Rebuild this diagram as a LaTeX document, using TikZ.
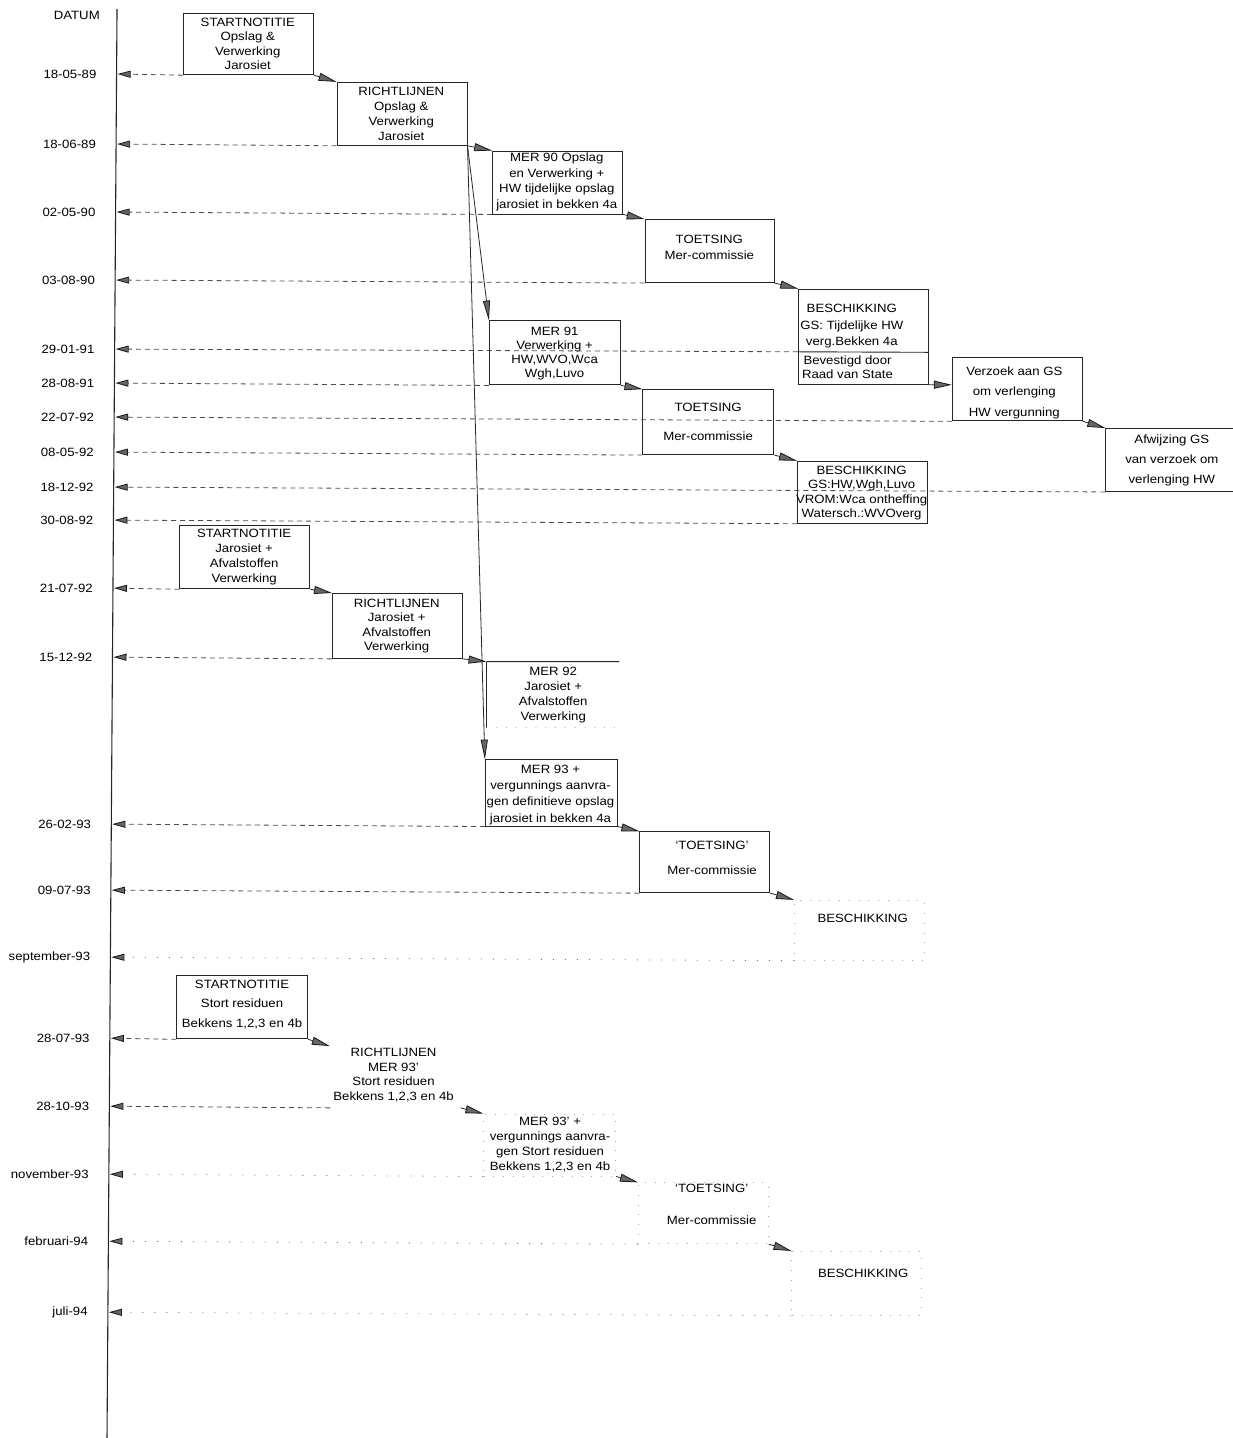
\documentclass[tikz,border=0pt]{standalone}
\usepackage{fontspec}
\setmainfont{Liberation Sans}[FakeStretch=1.1]
\usetikzlibrary{arrows.meta}
\begin{document}
\begin{tikzpicture}[x=1pt,y=-1pt,
  box/.style={draw=black!85, line width=0.9pt, rectangle, inner sep=0pt, anchor=north west},
  ghost/.style={draw=black!35, line width=0.8pt, dash pattern=on 0.8pt off 9pt, rectangle, inner sep=0pt, anchor=north west},
  boxln/.style={draw=black!85, line width=0.9pt},
  ghostln/.style={draw=black!35, line width=0.8pt, dash pattern=on 0.8pt off 9pt},
  txt/.style={align=center, inner sep=0pt, text=black, font={\fontsize{12}{#1}\selectfont}},
  txt/.default=14.5,
  lbl/.style={anchor=east, inner sep=0pt, text=black, font={\fontsize{12}{14}\selectfont}},
  dateln/.style={draw=black!70, line width=0.8pt, dash pattern=on 5pt off 4pt,
    -{Triangle[length=13pt,width=7pt,color=black!90,fill=black!60]}},
  dotln/.style={draw=black!55, line width=0.8pt, dash pattern=on 1pt off 11pt,
    -{Triangle[length=13pt,width=7pt,color=black!90,fill=black!60]}},
  stepln/.style={draw=black!85, line width=0.8pt,
    -{Triangle[length=18pt,width=8pt,color=black!90,fill=black!60]}},
  longln/.style={draw=black!85, line width=0.8pt,
    -{Triangle[length=20pt,width=7pt,color=black!90,fill=black!60]}}
]
\useasboundingbox (0,0) rectangle (1232,1438);
\begin{scope}[cm={1,-0.004,0.007,1,(0.07pt,0.47pt)}]
% axis
\coordinate (ax0) at (117,9);
\coordinate (ax1) at (117,1450);
\draw[line width=1.1pt, black!85] (ax0) -- (ax1);

% date coordinates on the axis
\coordinate (d1) at (118,74);
\coordinate (d2) at (118,144);
\coordinate (d3) at (118,212);
\coordinate (d4) at (118,280);
\coordinate (d5) at (118,349);
\coordinate (d6) at (118,383);
\coordinate (d7) at (118,417);
\coordinate (d8) at (118,452);
\coordinate (d9) at (118,487);
\coordinate (d10) at (118,520);
\coordinate (d11) at (118,588);
\coordinate (d12) at (118,657);
\coordinate (d13) at (118,824);
\coordinate (d14) at (118,890);
\coordinate (d15) at (118,957);
\coordinate (d16) at (118,1038);
\coordinate (d17) at (118,1106);
\coordinate (d18) at (118,1174);
\coordinate (d19) at (118,1241);
\coordinate (d20) at (118,1312);

% date labels
\node[lbl] (L0) at (100,15) {DATUM};
\node[lbl] (L1) at (97,74) {18-05-89};
\node[lbl] (L2) at (97,144) {18-06-89};
\node[lbl] (L3) at (97,212) {02-05-90};
\node[lbl] (L4) at (97,280) {03-08-90};
\node[lbl] (L5) at (97,349) {29-01-91};
\node[lbl] (L6) at (97,383) {28-08-91};
\node[lbl] (L7) at (97,417) {22-07-92};
\node[lbl] (L8) at (97,452) {08-05-92};
\node[lbl] (L9) at (97,487) {18-12-92};
\node[lbl] (L10) at (97,520) {30-08-92};
\node[lbl] (L11) at (97,588) {21-07-92};
\node[lbl] (L12) at (97,657) {15-12-92};
\node[lbl] (L13) at (97,824) {26-02-93};
\node[lbl] (L14) at (97,890) {09-07-93};
\node[lbl] (L15) at (97,957) {september-93};
\node[lbl] (L16) at (97,1038) {28-07-93};
\node[lbl] (L17) at (97,1106) {28-10-93};
\node[lbl] (L18) at (97,1174) {november-93};
\node[lbl] (L19) at (97,1241) {februari-94};
\node[lbl] (L20) at (97,1312) {juli-94};

% boxes
\node[box, minimum width=130pt, minimum height=61pt] (A) at (183,13) {};
\node[box, minimum width=130pt, minimum height=63pt] (B) at (337,81) {};
\node[box, minimum width=130pt, minimum height=63pt] (C) at (493,149) {};
\node[box, minimum width=129pt, minimum height=63pt] (D) at (646,217) {};
\node[box, minimum width=130pt, minimum height=95pt] (E) at (800,286) {};
\coordinate (Edl) at (800,349);
\coordinate (Edr) at (930,349);
\draw[boxln] (Edl) -- (Edr);
\node[box, minimum width=130pt, minimum height=63pt] (F) at (954,354) {};
\node[box, minimum width=132pt, minimum height=63pt] (G) at (1108,424) {};
\node[box, minimum width=131pt, minimum height=64pt] (H) at (491,319) {};
\node[box, minimum width=131pt, minimum height=65pt] (I) at (645,387) {};
\node[box, minimum width=130pt, minimum height=62pt] (J) at (800,458) {};
\node[box, minimum width=130pt, minimum height=63pt] (K) at (183,525) {};
\node[box, minimum width=130pt, minimum height=65pt] (L) at (336,592) {};
\node[box, draw=none, minimum width=132pt, minimum height=65pt] (M) at (491,660) {};
\draw[boxln] (M.north west) -- (M.north east);
\draw[boxln] (M.north west) -- (M.south west);
\draw[ghostln] (M.south west) -- (M.south east);
\node[box, minimum width=132pt, minimum height=66pt] (N) at (490,758) {};
\node[box, minimum width=130pt, minimum height=61pt] (O) at (645,829) {};
\node[ghost, minimum width=130pt, minimum height=60pt] (O2) at (800,897) {};
\node[box, minimum width=131pt, minimum height=63pt] (P) at (183,975) {};
\node[ghost, draw=none, minimum width=130pt, minimum height=61pt] (Q) at (337,1045) {};
\node[ghost, minimum width=132pt, minimum height=62pt] (R) at (491,1112) {};
\node[ghost, minimum width=130pt, minimum height=61pt] (S) at (646,1180) {};
\node[ghost, minimum width=130pt, minimum height=64pt] (T) at (800,1248) {};

% texts
\node[txt=14.5] (At) at (248,43.5) {STARTNOTITIE\\Opslag \&\\Verwerking\\Jarosiet};
\node[txt=15] (Bt) at (402,113) {RICHTLIJNEN\\Opslag \&\\Verwerking\\Jarosiet};
\node[txt=15.5] (Ct) at (558,180) {MER 90 Opslag\\en Verwerking +\\HW tijdelijke opslag\\jarosiet in bekken 4a};
\node[txt=16] (Dt) at (711,245) {TOETSING\\Mer-commissie};
\node[txt=16.5] (Et) at (854,323.5) {BESCHIKKING\\GS: Tijdelijke HW\\verg.Bekken 4a};
\node[txt=14] (Eb) at (850,364) {Bevestigd door\\Raad van State};
\node[txt=20.5] (Ft) at (1017,389) {Verzoek aan GS\\om verlenging\\HW vergunning};
\node[txt=20] (Gt) at (1175,456) {Afwijzing GS\\van verzoek om\\verlenging HW};
\node[txt=14] (Ht) at (557,352) {MER 91\\Verwerking +\\HW,WVO,Wca\\Wgh,Luvo};
\node[txt=29] (It) at (711,419) {TOETSING\\Mer-commissie};
\node[txt=14.5] (Jt) at (865,490) {BESCHIKKING\\GS:HW,Wgh,Luvo\\VROM:Wca ontheffing\\Watersch.:WVOverg};
\node[txt=15] (Kt) at (248,557) {STARTNOTITIE\\Jarosiet +\\Afvalstoffen\\Verwerking};
\node[txt=14.5] (Lt) at (401,625) {RICHTLIJNEN\\Jarosiet +\\Afvalstoffen\\Verwerking};
\node[txt=15] (Mt) at (558,693) {MER 92\\Jarosiet +\\Afvalstoffen\\Verwerking};
\node[txt=16.3] (Nt) at (556,793) {MER 93 +\\vergunnings aanvra-\\gen definitieve opslag\\jarosiet in bekken 4a};
\node[txt=25] (Ot) at (718,855) {`TOETSING'\\Mer-commissie};
\node[txt] (O2t) at (869,915) {BESCHIKKING};
\node[txt=19.5] (Pt) at (249,1004) {STARTNOTITIE\\Stort residuen\\Bekkens 1,2,3 en 4b};
\node[txt=14.7] (Qt) at (401,1074) {RICHTLIJNEN\\MER 93'\hspace*{14pt}\\Stort residuen\\Bekkens 1,2,3 en 4b};
\node[txt=15] (Rt) at (558,1143) {MER 93' +\\vergunnings aanvra-\\gen Stort residuen\\Bekkens 1,2,3 en 4b};
\node[txt=32] (St) at (720,1202) {`TOETSING'\\Mer-commissie};
\node[txt] (Tt) at (872,1270) {BESCHIKKING};

% date lines
\draw[dateln] (A.south west) -- (d1);
\draw[dateln] (B.south west) -- (d2);
\draw[dateln] (C.south west) -- (d3);
\draw[dateln] (D.south west) -- (d4);
\draw[dateln] (Edl) -- (d5);
\draw[dateln] (H.south west) -- (d6);
\draw[dateln] (F.south west) -- (d7);
\draw[dateln] (I.south west) -- (d8);
\draw[dateln] (G.south west) -- (d9);
\draw[dateln] (J.south west) -- (d10);
\draw[dateln] (K.south west) -- (d11);
\draw[dateln] (L.south west) -- (d12);
\draw[dateln] (N.south west) -- (d13);
\draw[dateln] (O.south west) -- (d14);
\draw[dotln] (O2.south west) -- (d15);
\draw[dateln] (P.south west) -- (d16);
\draw[dateln] (Q.south west) -- (d17);
\draw[dotln] (R.south west) -- (d18);
\draw[dotln] (S.south west) -- (d19);
\draw[dotln] (T.south west) -- (d20);

% step arrows
\draw[stepln] (A.south east) -- (B.north west);
\draw[stepln] (B.south east) -- (C.north west);
\draw[stepln] (C.south east) -- (D.north west);
\draw[stepln] (D.south east) -- (E.north west);
\draw[stepln] (E.south east) -- (E.south east -| F.west);
\draw[stepln] (F.south east) -- (G.north west);
\draw[longln] (B.south east) -- (H.north west);
\draw[longln] (B.south east) -- (N.north west);
\draw[stepln] (H.south east) -- (I.north west);
\draw[stepln] (I.south east) -- (J.north west);
\draw[stepln] (K.south east) -- (L.north west);
\draw[stepln] (L.south east) -- (M.north west);
\draw[stepln] (N.south east) -- (O.north west);
\draw[stepln] (O.south east) -- (O2.north west);
\draw[stepln] (P.south east) -- (Q.north west);
\draw[stepln] (Q.south east) -- (R.north west);
\draw[stepln] (R.south east) -- (S.north west);
\draw[stepln] (S.south east) -- (T.north west);
\end{scope}
\end{tikzpicture}
\end{document}
